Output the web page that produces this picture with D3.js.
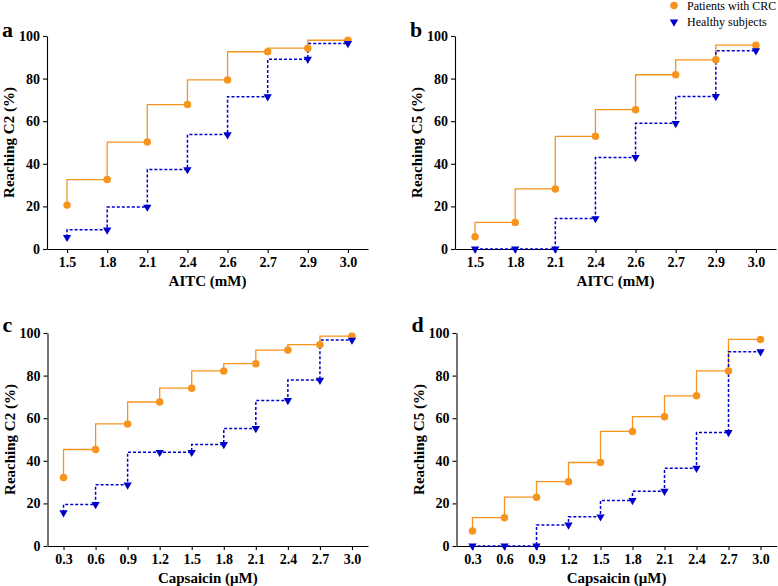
<!DOCTYPE html>
<html>
<head>
<meta charset="utf-8">
<script src="https://cdn.jsdelivr.net/npm/d3@7"></script>
<style>
  html, body { margin: 0; padding: 0; background: #fff; }
  svg { display: block; }
</style>
</head>
<body>
<svg id="chart" width="778" height="586"></svg>
<script>
// ---- data ----
const aitcDoses = ["1.5", "1.8", "2.1", "2.4", "2.6", "2.7", "2.9", "3.0"];
const capsDoses = ["0.3", "0.6", "0.9", "1.2", "1.5", "1.8", "2.1", "2.4", "2.7", "3.0"];
const yTicks = [0, 20, 40, 60, 80, 100];

const aCRC     = [20.6, 32.6, 50.2, 67.8, 79.4, 92.6, 94.3, 98.0];
const aHealthy = [5.5, 9.0, 19.7, 37.3, 53.7, 71.5, 89.1, 96.5];
const bCRC     = [5.8, 12.5, 28.2, 52.9, 65.4, 81.8, 88.8, 95.7];
const bHealthy = [0, 0, 0, 14.3, 43.0, 59.0, 71.6, 93.1];
const cCRC     = [32.2, 45.3, 57.3, 67.6, 74.1, 82.2, 85.6, 92.0, 94.5, 98.5];
const cHealthy = [15.6, 19.5, 28.7, 44.0, 44.0, 47.7, 55.2, 68.3, 77.9, 96.7];
const dCRC     = [7.0, 13.3, 22.9, 30.2, 39.2, 53.8, 60.7, 70.5, 82.2, 97.0];
const dHealthy = [0, 0, 0, 9.9, 13.7, 21.4, 25.7, 36.5, 53.3, 91.2];

const seriesNames = ["Patients with CRC", "Healthy subjects"];
const panelLetters = ["a", "b", "c", "d"];
const xTitles = ["AITC (mM)", "AITC (mM)", "Capsaicin (\u03BCM)", "Capsaicin (\u03BCM)"];
const yTitles = ["Reaching C2 (%)", "Reaching C5 (%)", "Reaching C2 (%)", "Reaching C5 (%)"];

// ---- styles / layout ----
const ORANGE = "#F7941E";
const BLUE = "#0000CD";
const SERIF = "'Liberation Serif', 'Times New Roman', serif";

const panels = [
  { letter: panelLetters[0], cats: aitcDoses, crc: aCRC, hs: aHealthy, xt: xTitles[0], yt: yTitles[0],
    x0: 47, x1: 368, yb: 249, yt0: 36 },
  { letter: panelLetters[1], cats: aitcDoses, crc: bCRC, hs: bHealthy, xt: xTitles[1], yt: yTitles[1],
    x0: 455, x1: 776, yb: 249, yt0: 36 },
  { letter: panelLetters[2], cats: capsDoses, crc: cCRC, hs: cHealthy, xt: xTitles[2], yt: yTitles[2],
    x0: 47.5, x1: 368, yb: 546, yt0: 333 },
  { letter: panelLetters[3], cats: capsDoses, crc: dCRC, hs: dHealthy, xt: xTitles[3], yt: yTitles[3],
    x0: 456.5, x1: 776.5, yb: 546, yt0: 333 }
];

const svg = d3.select("#chart");
const circleSym = d3.symbol().type(d3.symbolCircle).size(44);
const triSym = d3.symbol().type(d3.symbolTriangle).size(30);

panels.forEach(p => {
  const g = svg.append("g");
  const x = d3.scalePoint().domain(p.cats).range([p.x0, p.x1]).padding(0.5);
  const y = d3.scaleLinear().domain([0, 100]).range([p.yb, p.yt0]);

  // axes
  const ya = g.append("g").attr("transform", `translate(${p.x0},0)`)
    .call(d3.axisLeft(y).tickValues(yTicks).tickSize(4).tickSizeOuter(0).tickPadding(3));
  const xa = g.append("g").attr("transform", `translate(0,${p.yb})`)
    .call(d3.axisBottom(x).tickSize(4).tickSizeOuter(0).tickPadding(4));
  [ya, xa].forEach(a => {
    a.selectAll("path, line").attr("stroke", "#000").attr("stroke-width", 1.1);
    a.selectAll("text").attr("font-family", SERIF).attr("font-weight", "bold")
      .attr("font-size", 14).attr("fill", "#000");
  });

  // titles
  g.append("text")
    .attr("x", (p.x0 + p.x1) / 2).attr("y", p.yb + 37)
    .attr("text-anchor", "middle")
    .attr("font-family", SERIF).attr("font-weight", "bold").attr("font-size", 15)
    .text(p.xt);
  g.append("text")
    .attr("transform", `translate(${p.x0 - 33},${(p.yb + p.yt0) / 2}) rotate(-90)`)
    .attr("text-anchor", "middle")
    .attr("font-family", SERIF).attr("font-weight", "bold").attr("font-size", 15)
    .text(p.yt);
  g.append("text")
    .attr("x", p.x0 - 45).attr("y", p.yt0 + (p.yb > 300 ? -1 : 1))
    .attr("font-family", SERIF).attr("font-weight", "bold").attr("font-size", 22)
    .text(p.letter);

  const line = d3.line()
    .x((d, i) => x(p.cats[i]))
    .y(d => y(d))
    .curve(d3.curveStepBefore);

  // CRC
  g.append("path").datum(p.crc).attr("d", line)
    .attr("fill", "none").attr("stroke", ORANGE).attr("stroke-width", 1.3);
  // Healthy
  g.append("path").datum(p.hs).attr("d", line)
    .attr("fill", "none").attr("stroke", BLUE).attr("stroke-width", 1.5)
    .attr("stroke-dasharray", "3,2");

  g.selectAll(".crc").data(p.crc).enter().append("path")
    .attr("d", circleSym)
    .attr("transform", (d, i) => `translate(${x(p.cats[i])},${y(d)})`)
    .attr("fill", ORANGE);
  g.selectAll(".hs").data(p.hs).enter().append("path")
    .attr("d", triSym)
    .attr("transform", (d, i) => `translate(${x(p.cats[i])},${y(d)}) rotate(180)`)
    .attr("fill", BLUE);
});

// legend
const leg = svg.append("g");
leg.append("path").attr("d", circleSym).attr("transform", "translate(674,5.5)").attr("fill", ORANGE);
leg.append("path").attr("d", triSym).attr("transform", "translate(674,22) rotate(180)").attr("fill", BLUE);
leg.append("text").attr("x", 687).attr("y", 9.5)
  .attr("font-family", SERIF).attr("font-size", 12).text(seriesNames[0]);
leg.append("text").attr("x", 687).attr("y", 26)
  .attr("font-family", SERIF).attr("font-size", 12).text(seriesNames[1]);
</script>
</body>
</html>
